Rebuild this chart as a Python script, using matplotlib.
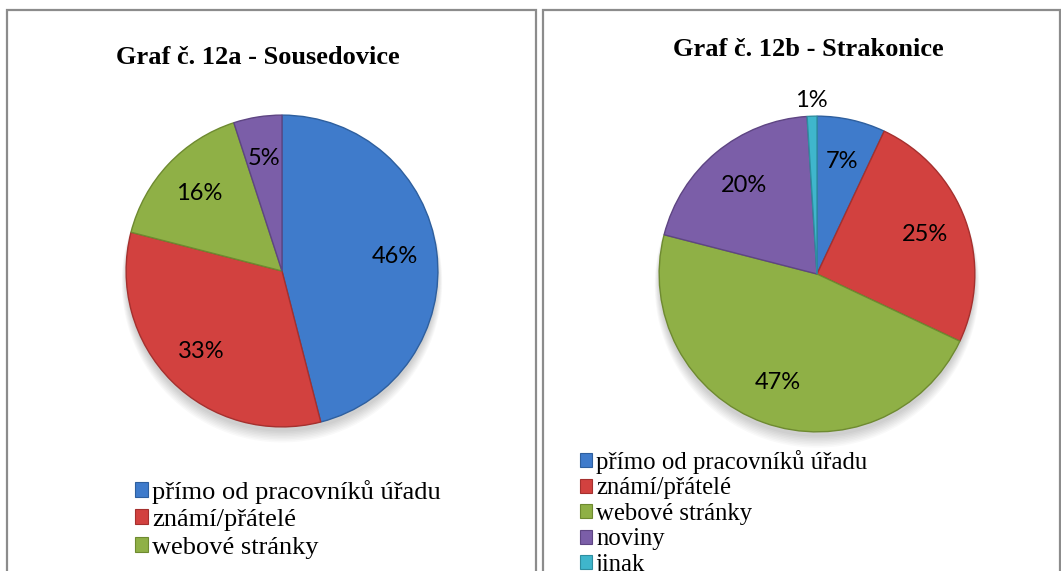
import matplotlib.pyplot as plt
from matplotlib.patches import Rectangle, Patch
import numpy as np

# data
kategorie_a = ['přímo od pracovníků úřadu', 'známí/přátelé', 'webové stránky', 'noviny']
hodnoty_a = [46, 33, 16, 5]
kategorie_b = ['přímo od pracovníků úřadu', 'známí/přátelé', 'webové stránky', 'noviny', 'jinak']
hodnoty_b = [7, 25, 47, 20, 1]
barvy = ['#3F7BCB', '#D2413F', '#8FB046', '#7B5EA8', '#3FB6CC']
hrany = ['#2E5F9E', '#A5302E', '#6E8A30', '#5E4583', '#2E8EA0']

W, H = 1061, 571
fig = plt.figure(figsize=(W / 100, H / 100), dpi=100)

def px(x, y, w, h):
    # pixel box (top-left origin) -> figure fraction
    return [x / W, 1 - (y + h) / H, w / W, h / H]

# panel frames
for (x0, x1) in [(7, 536), (543, 1060)]:
    fig.patches.append(Rectangle((x0 / W, -0.01), (x1 - x0) / W, 1 - 10 / H + 0.01,
                                 transform=fig.transFigure, fill=False,
                                 edgecolor='#8C8C8C', linewidth=1.6))

def kolac(box, hodnoty, n, title, title_xy, leg_xy, leg_size, leg_space):
    ax = fig.add_axes(px(*box))
    # soft shadow under the pie
    for k in range(8):
        ax.add_patch(plt.Circle((0.0, -0.03 - 0.006 * k), 1.0 + 0.004 * k,
                                color='black', alpha=0.025, zorder=0, lw=0,
                                clip_on=False))
    wedges, texts, autotexts = ax.pie(
        hodnoty, colors=barvy[:n], startangle=90, counterclock=False,
        autopct='%d%%', pctdistance=0.73, radius=1.0,
        wedgeprops=dict(linewidth=1.0),
        textprops=dict(fontsize=17, family='Lato', color='black'))
    for w, e in zip(wedges, hrany):
        w.set_edgecolor(e)
        w.set_zorder(2)
    # small slice label outside
    for v, t in zip(hodnoty, autotexts):
        t.set_zorder(5)
        if v < 3:
            x, y = t.get_position()
            t.set_position((x * 1.1 / 0.73, y * 1.1 / 0.73))
    ax.set_xlim(-1.02, 1.02)
    ax.set_ylim(-1.02, 1.02)
    ax.set_aspect('equal')
    ax.axis('off')

    fig.text(title_xy[0] / W, 1 - title_xy[1] / H, title, ha='center', va='center',
             fontsize=19, fontweight='bold', family='Liberation Serif')

    handles = [Patch(facecolor=c, edgecolor=e, linewidth=0.8)
               for c, e in zip(barvy[:n], hrany[:n])]
    labels = kategorie_a if n == 4 else kategorie_b
    # left legend shows only the first three entries (rest is cut off)
    shown = 3 if n == 4 else n
    fig.legend(handles[:shown], labels[:shown], loc='upper left',
               bbox_to_anchor=(leg_xy[0] / W, 1 - leg_xy[1] / H),
               frameon=False, handlelength=0.5, handleheight=0.5,
               handletextpad=0.15, labelspacing=leg_space, borderpad=0,
               borderaxespad=0,
               prop=dict(family='Liberation Serif', size=leg_size))
    return ax

kolac((123, 112, 318, 318), hodnoty_a, 4, 'Graf č. 12a - Sousedovice',
      (258, 57), (135, 480), 19, 0.2)
kolac((656, 113, 322, 322), hodnoty_b, 5, 'Graf č. 12b - Strakonice',
      (808, 49), (580, 450), 17.8, 0.14)

fig.savefig('out.png', dpi=100)
